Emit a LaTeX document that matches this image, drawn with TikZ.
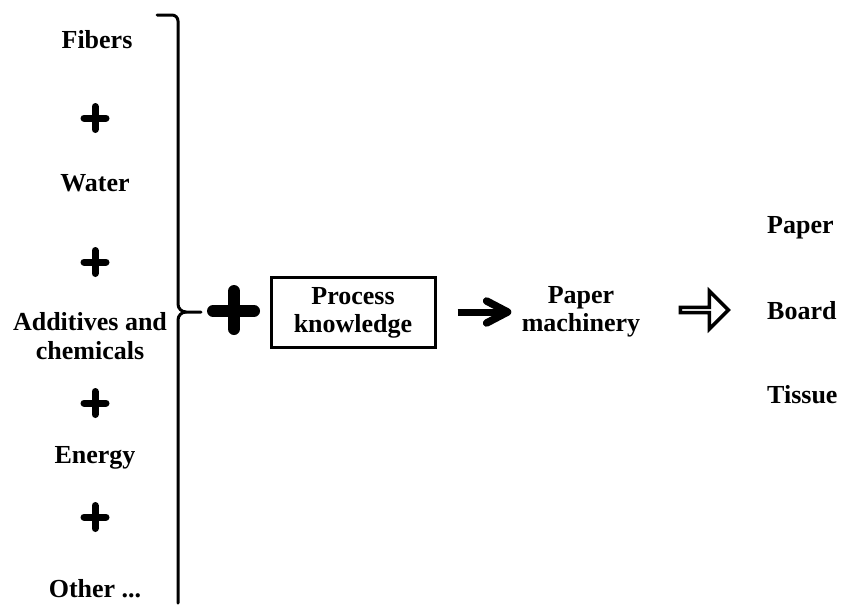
\documentclass[tikz,border=0pt]{standalone}
\usepackage{fontspec}
\setmainfont{Liberation Serif}
\usetikzlibrary{shapes.arrows}
\begin{document}
\begin{tikzpicture}[x=1pt,y=-1pt,
  lbl/.style={font=\bfseries\fontsize{26}{28.5}\selectfont, align=center, inner sep=0pt},
  plussign/.style={line width=7pt, line cap=round},
  bigplus/.style={line width=12pt, line cap=round},
  bracket/.style={line width=3pt, line cap=round, line join=round},
  procbox/.style={draw, line width=3pt, minimum width=164pt, minimum height=70pt, inner sep=0pt},
  flowline/.style={line width=7pt},
  chevron/.style={line width=7.5pt, line cap=round, line join=round},
  hollow/.style={single arrow, draw, line width=3.5pt, minimum height=48pt,
    minimum width=38pt, single arrow head extend=11pt, inner sep=0pt,
    single arrow head indent=0pt}]
\useasboundingbox (0,0) rectangle (843,605);

% inputs
\node[lbl] (fib) at (97,40) {Fibers};
\node[lbl] (wat) at (95,183) {Water};
\node[lbl] (add) at (90,336) {Additives and\\chemicals};
\node[lbl] (ene) at (95,458) {Energy};
\node[lbl] (oth) at (95,589) {Other ...};

% small plus signs between inputs
\foreach \py in {118,262,403,517}
  \draw[plussign] (84,\py) -- (106,\py) (95,\py-11.5) -- (95,\py+11.5);

% closing brace
\coordinate (btop) at (157,15);
\coordinate (bbot) at (178,603);
\coordinate (btip) at (201,312);
\draw[bracket] (btop) -- (172,15) to[out=0,in=90] (178,21) -- (178,304)
  to[out=-90,in=180] (186,312) -- (btip);
\draw[bracket] (186,312) to[out=180,in=90] (178,320) -- (bbot);

% large plus
\draw[bigplus] (213,311) -- (254,311) (234,291) -- (234,329);

% process
\node[procbox] (box) at (353,312) {};
\node[lbl] (proc) at (353,313) {Process\\knowledge};
\node[lbl] (mach) at (581,312) {Paper\\machinery};
\draw[flowline] ([xshift=21pt]box.east) -- ([xshift=-14pt]mach.west) coordinate (tipp);
\draw[chevron] ([shift={(-21,-11)}]tipp) -- (tipp) -- ([shift={(-21,11)}]tipp);

% outputs
\node[hollow] (out) at (703,310) {};
\node[lbl, anchor=west] (pap) at (767,228) {Paper};
\node[lbl, anchor=west] (brd) at (767,311) {Board};
\node[lbl, anchor=west] (tis) at (767,395) {Tissue};
\end{tikzpicture}
\end{document}
